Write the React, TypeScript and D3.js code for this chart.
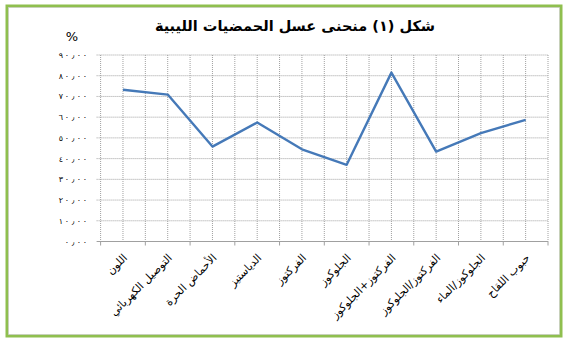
import React from "react";
import * as d3 from "d3";

const categories = [
  "اللون",
  "التوصيل الكهربائي",
  "الأحماض الحرة",
  "الدياستيز",
  "الفركتوز",
  "الجلوكوز",
  "الفركتوز+الجلوكوز",
  "الفركتوز/الجلوكوز",
  "الجلوكوز/الماء",
  "حبوب اللقاح",
];
const values = [73.2, 70.9, 45.8, 57.4, 44.5, 37.0, 81.5, 43.4, 52.3, 58.7];
const yTicks = [0, 10, 20, 30, 40, 50, 60, 70, 80, 90];
const title = "شكل (١) منحنى عسل الحمضيات الليبية";
const yUnit = "%";

const W = 571;
const H = 345;
const plotL = 100.6;
const plotR = 548;
const plotT = 55;
const plotB = 241.5;

const arabicDigits = "٠١٢٣٤٥٦٧٨٩";
const fmt = (v: number) =>
  v
    .toFixed(2)
    .replace(/\d/g, (d) => arabicDigits[+d])
    .replace(".", "٫");

export default function App() {
  const x = d3.scaleBand<string>().domain(categories).range([plotL, plotR]);
  const y = d3.scaleLinear().domain([0, 90]).range([plotB, plotT]);
  const bw = x.bandwidth();
  const cx = (c: string) => (x(c) as number) + bw / 2;

  const line = d3
    .line<number>()
    .x((_, i) => cx(categories[i]))
    .y((d) => y(d));

  const vLines: number[] = [];
  categories.forEach((c) => {
    vLines.push(x(c) as number);
    vLines.push(cx(c));
  });
  vLines.push(plotR);

  const font = "'DejaVu Sans', 'Liberation Sans', Arial, sans-serif";

  return (
    <svg
      width={W}
      height={H}
      style={{ position: "absolute", left: 0, top: 0, background: "#fff" }}
    >
      <rect x={0} y={0} width={W} height={H} fill="#fff" />
      <rect
        x={7}
        y={6}
        width={554}
        height={330}
        fill="#fff"
        stroke="#8fbf4f"
        strokeWidth={3}
      />
      <rect
        x={8.5}
        y={7.5}
        width={551}
        height={327}
        fill="none"
        stroke="#c8c8c8"
        strokeWidth={0.6}
      />
      <text
        x={295}
        y={31}
        textAnchor="middle"
        fontFamily={font}
        fontWeight="bold"
        fontSize={14.5}
        fill="#000"
      >
        {title}
      </text>
      <text x={72} y={41} textAnchor="middle" fontFamily={font} fontSize={13}>
        {yUnit}
      </text>
      {vLines.map((vx, i) => (
        <line
          key={"v" + i}
          x1={vx}
          x2={vx}
          y1={plotT}
          y2={plotB}
          stroke="#a0a0a0"
          strokeWidth={1}
          strokeDasharray="1 1"
        />
      ))}
      {yTicks.map((t) => {
        const chars = Array.from(fmt(t));
        return (
          <g key={"h" + t}>
            <line
              x1={plotL - 4}
              x2={plotR}
              y1={y(t)}
              y2={y(t)}
              stroke="#a0a0a0"
              strokeWidth={1}
              strokeDasharray={t === 0 ? undefined : "1 1"}
            />
            <text
              y={y(t) + 3}
              fontFamily={font}
              fontSize={8}
              fill="#000"
              textAnchor="middle"
            >
              {chars.map((ch, k) => (
                <tspan key={k} x={85 - (chars.length - 1 - k) * 6}>
                  {ch}
                </tspan>
              ))}
            </text>
          </g>
        );
      })}
      {categories.map((c) => (
        <line
          key={"t" + c}
          x1={x(c) as number}
          x2={x(c) as number}
          y1={plotB}
          y2={plotB + 4}
          stroke="#a0a0a0"
        />
      ))}
      <line x1={plotR} x2={plotR} y1={plotB} y2={plotB + 4} stroke="#a0a0a0" />
      <path
        d={line(values) || ""}
        fill="none"
        stroke="#4579b8"
        strokeWidth={2.4}
        strokeLinejoin="round"
      />
      {categories.map((c) => (
        <text
          key={"l" + c}
          transform={`translate(${cx(c) + 5},${plotB + 17}) rotate(-45)`}
          textAnchor="end"
          fontFamily={font}
          fontSize={11}
          fill="#000"
        >
          {c}
        </text>
      ))}
    </svg>
  );
}
